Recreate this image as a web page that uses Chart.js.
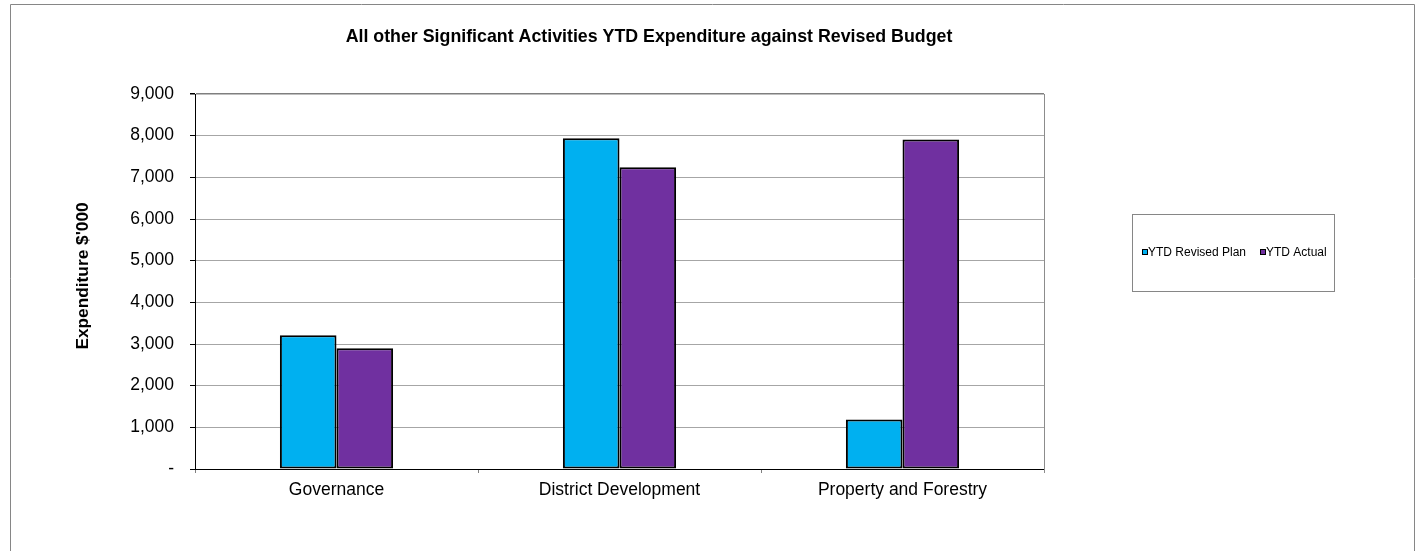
<!DOCTYPE html>
<html>
<head>
<meta charset="utf-8">
<script src="https://cdn.jsdelivr.net/npm/chart.js@4.4.1/dist/chart.umd.min.js"></script>
<style>
  html, body { margin: 0; padding: 0; background: #fff; }
  #wrap { width: 1416px; height: 551px; }
</style>
</head>
<body>
<div id="wrap"><canvas id="expChart" width="1416" height="551"></canvas></div>
<script>
const categories = ['Governance', 'District Development', 'Property and Forestry'];
const revisedPlan = [3210, 7940, 1190];
const ytdActual = [2900, 7240, 7910];
const yTicks = [0, 1000, 2000, 3000, 4000, 5000, 6000, 7000, 8000, 9000];

const FONT = 'Arial, "Liberation Sans", sans-serif';

// frame, chart title, axis title and boxed legend
const decor = {
  id: 'decor',
  beforeDraw(chart) {
    const { ctx } = chart;
    ctx.save();
    ctx.strokeStyle = '#868686';
    ctx.lineWidth = 1;
    ctx.beginPath();
    ctx.moveTo(10.5, 560);
    ctx.lineTo(10.5, 4.5);
    ctx.lineTo(1414.5, 4.5);
    ctx.lineTo(1414.5, 560);
    ctx.stroke();
    ctx.restore();
  },
  afterDraw(chart) {
    const { ctx, chartArea } = chart;
    ctx.save();
    // right edge of plot area
    ctx.strokeStyle = '#8c8c8c';
    ctx.beginPath();
    ctx.moveTo(chartArea.right + 0.5, chartArea.top);
    ctx.lineTo(chartArea.right + 0.5, chartArea.bottom + 4);
    ctx.stroke();

    ctx.fillStyle = '#000';
    ctx.font = 'bold 17.8px ' + FONT;
    ctx.textAlign = 'center';
    ctx.textBaseline = 'middle';
    ctx.fillText('All other Significant Activities YTD Expenditure against Revised Budget', 649, 37);

    ctx.save();
    ctx.translate(83, 276);
    ctx.rotate(-Math.PI / 2);
    ctx.font = 'bold 17.3px ' + FONT;
    ctx.fillText("Expenditure $'000", 0, 0);
    ctx.restore();

    // legend box
    ctx.strokeStyle = '#868686';
    ctx.strokeRect(1132.5, 214.5, 202, 77);
    ctx.font = '12px ' + FONT;
    ctx.textAlign = 'left';
    const xs = [1142, 1260];
    chart.data.datasets.forEach((ds, i) => {
      ctx.fillStyle = ds.backgroundColor;
      ctx.fillRect(xs[i] + 0.5, 249.5, 5, 5);
      ctx.strokeStyle = '#000';
      ctx.strokeRect(xs[i] + 0.5, 249.5, 5, 5);
      ctx.fillStyle = '#000';
      ctx.fillText(ds.label, xs[i] + 6, 252.5);
    });
    ctx.restore();
  }
};

new Chart(document.getElementById('expChart'), {
  type: 'bar',
  data: {
    labels: categories,
    datasets: [{
      label: 'YTD Revised Plan',
      data: revisedPlan,
      backgroundColor: '#00b0f0',
      borderColor: '#000',
      borderWidth: 2,
      borderSkipped: false
    }, {
      label: 'YTD Actual',
      data: ytdActual,
      backgroundColor: '#7030a0',
      borderColor: '#000',
      borderWidth: 2,
      borderSkipped: false
    }]
  },
  options: {
    responsive: false,
    animation: false,
    categoryPercentage: 0.4,
    barPercentage: 1,
    layout: { padding: { left: 0, top: 94, right: 372, bottom: 0 } },
    plugins: {
      legend: { display: false },
      title: { display: false },
      tooltip: { enabled: false }
    },
    scales: {
      x: {
        afterFit: s => { s.height = 82; },
        border: { color: '#000', width: 1 },
        grid: {
          offset: true,
          drawOnChartArea: false,
          tickLength: 4,
          tickColor: '#808080'
        },
        ticks: {
          color: '#000',
          padding: 7,
          font: { family: FONT, size: 17.5 }
        }
      },
      y: {
        min: 0,
        max: 9000,
        afterFit: s => { s.width = 195; },
        afterBuildTicks: s => { s.ticks = yTicks.map(v => ({ value: v })); },
        border: { color: '#000', width: 1 },
        grid: {
          color: ctx => ctx.tick && ctx.tick.value === 9000 ? '#7f7f7f' : '#a6a6a6',
          lineWidth: ctx => ctx.tick && ctx.tick.value === 9000 ? 1.5 : 1,
          tickLength: 5,
          tickColor: '#000'
        },
        ticks: {
          color: '#000',
          padding: 16,
          font: { family: FONT, size: 17.5 },
          callback: v => v === 0 ? '-' : v.toLocaleString('en-US')
        }
      }
    }
  },
  plugins: [decor]
});
</script>
</body>
</html>
